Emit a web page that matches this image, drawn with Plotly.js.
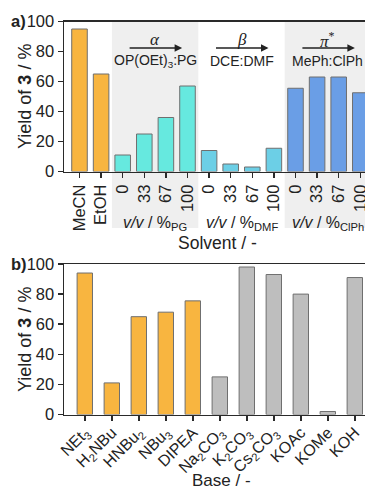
<!DOCTYPE html>
<html>
<head>
<meta charset="utf-8">
<script src="https://cdn.plot.ly/plotly-3.0.1.min.js"></script>
<style>
html,body{margin:0;padding:0;overflow:hidden;background:#fff;width:365px;height:489px;}
#chart{width:400px;height:489px;}
</style>
</head>
<body>
<div id="chart"></div>
<script>
// Panel a: solvent screen
const solventLabels = ["MeCN","EtOH","0","33","67","100","0","33","67","100","0","33","67","100"];
const solventYield = [95, 65, 11, 25, 36, 57, 14, 5, 3, 15.5, 55.5, 63, 63, 52.5];
const solventGroup = ["pure","pure","PG","PG","PG","PG","DMF","DMF","DMF","DMF","ClPh","ClPh","ClPh","ClPh"];

// Panel b: base screen
const baseLabels = ["NEt<sub>3</sub>","H<sub>2</sub>NBu","HNBu<sub>2</sub>","NBu<sub>3</sub>","DIPEA",
  "Na<sub>2</sub>CO<sub>3</sub>","K<sub>2</sub>CO<sub>3</sub>","Cs<sub>2</sub>CO<sub>3</sub>","KOAc","KOMe","KOH"];
const baseYield = [94, 21, 65, 68, 75.5, 25, 98, 93, 80, 2, 91];
const baseGroup = ["amine","amine","amine","amine","amine","inorg","inorg","inorg","inorg","inorg","inorg"];

const groupColor = {pure:"#F8B540", PG:"#66E9DF", DMF:"#6CCFE6", ClPh:"#6A9EE6", amine:"#F8B540", inorg:"#BEBEBE"};

const W = 400, H = 489, L = 64;
const PW = W - L;
const font = "Liberation Sans, Arial, sans-serif";
const txt = "#222";
const py = p => 1 - p / H;      // pixel row -> paper y
const px = p => (p - L) / PW;   // pixel col -> paper x

const sx = solventLabels.map((_, i) => i);
const bx = baseLabels.map((_, i) => i);

const traces = [
  {type:"bar", x:sx, y:solventYield, xaxis:"x", yaxis:"y", width:0.72,
   marker:{color:solventGroup.map(g=>groupColor[g]), line:{color:"#6f6f6f", width:1}},
   hoverinfo:"skip", showlegend:false},
  {type:"bar", x:bx, y:baseYield, xaxis:"x2", yaxis:"y2", width:0.57,
   marker:{color:baseGroup.map(g=>groupColor[g]), line:{color:"#6f6f6f", width:1}},
   hoverinfo:"skip", showlegend:false}
];

const axCommon = {showline:true, linecolor:"#2a2a2a", linewidth:1.5, ticks:"outside", ticklen:5,
  tickwidth:1.5, tickcolor:"#2a2a2a", showgrid:false, zeroline:false,
  tickfont:{family:font, size:16.5, color:txt}};

const sStep = 21.6, sFirst = 79.5;
const bStep = 27, bFirst = 84.8;
const sLo = -(sFirst - L)/sStep, bLo = -(bFirst - L)/bStep;

const shapes = [
  {type:"rect", xref:"x", yref:"paper", x0:1.5, x1:5.5, y0:py(228), y1:py(21.5), fillcolor:"#EFEFEF", line:{width:0}, layer:"below"},
  {type:"rect", xref:"x", yref:"paper", x0:9.5, x1:14.5, y0:py(228), y1:py(21.5), fillcolor:"#EFEFEF", line:{width:0}, layer:"below"}
];

const groups = [
  {c:3.5, greek:"<i>α</i>", mix:"OP(OEt)<sub>3</sub>:PG", vv:"<i>v/v</i> / %<sub>PG</sub>"},
  {c:7.5, greek:"<i>β</i>", mix:"DCE:DMF", vv:"<i>v/v</i> / %<sub>DMF</sub>"},
  {c:11.5, greek:"<i>π</i><sup>*</sup>", mix:"MePh:ClPh", vv:"<i>v/v</i> / %<sub>ClPh</sub>"}
];

const ann = [];
groups.forEach(g => {
  ann.push({xref:"x", yref:"paper", axref:"x", ayref:"paper", x:g.c+1.25, y:py(48), ax:g.c-1.25, ay:py(48),
    text:"", showarrow:true, arrowhead:2, arrowsize:1, arrowwidth:1.5, arrowcolor:"#222", standoff:0, startstandoff:0});
  ann.push({xref:"x", yref:"paper", x:g.c, y:py(39.5), text:g.greek, showarrow:false,
    font:{family:"Liberation Serif, Times New Roman, serif", size:17, color:txt}, xanchor:"center", yanchor:"middle"});
  ann.push({xref:"x", yref:"paper", x:g.c, y:py(61), text:g.mix, showarrow:false,
    font:{family:font, size:14, color:txt}, xanchor:"center", yanchor:"middle"});
  ann.push({xref:"x", yref:"paper", x:g.c, y:py(223), text:g.vv, showarrow:false,
    font:{family:font, size:16, color:txt}, xanchor:"center", yanchor:"middle"});
});
ann.push({xref:"paper", yref:"paper", x:px(217), y:py(243), text:"Solvent / -", showarrow:false,
  font:{family:font, size:17.5, color:txt}, xanchor:"center", yanchor:"middle"});
ann.push({xref:"paper", yref:"paper", x:px(221), y:py(480), text:"Base / -", showarrow:false,
  font:{family:font, size:17, color:txt}, xanchor:"center", yanchor:"middle"});
ann.push({xref:"paper", yref:"paper", x:px(25), y:py(97), text:"Yield of <b>3</b> / %", textangle:-90, showarrow:false,
  font:{family:font, size:18, color:txt}, xanchor:"center", yanchor:"middle"});
ann.push({xref:"paper", yref:"paper", x:px(25), y:py(340), text:"Yield of <b>3</b> / %", textangle:-90, showarrow:false,
  font:{family:font, size:18, color:txt}, xanchor:"center", yanchor:"middle"});
ann.push({xref:"paper", yref:"paper", x:px(9), y:py(21), text:"<b>a)</b>", showarrow:false,
  font:{family:font, size:16.5, color:txt}, xanchor:"left", yanchor:"middle"});
ann.push({xref:"paper", yref:"paper", x:px(9), y:py(264), text:"<b>b)</b>", showarrow:false,
  font:{family:font, size:16.5, color:txt}, xanchor:"left", yanchor:"middle"});

const layout = {
  width:W, height:H, margin:{l:L, r:0, t:0, b:0},
  paper_bgcolor:"#fff", plot_bgcolor:"rgba(0,0,0,0)",
  xaxis:Object.assign({}, axCommon, {domain:[0,1], anchor:"y", range:[sLo, sLo + PW/sStep],
    tickmode:"array", tickvals:sx, ticktext:solventLabels, tickangle:-90, mirror:true}),
  yaxis:Object.assign({}, axCommon, {domain:[py(171.5), py(21.5)], anchor:"x", range:[0,100],
    tickmode:"array", tickvals:[0,20,40,60,80,100]}),
  xaxis2:Object.assign({}, axCommon, {domain:[0,1], anchor:"y2", range:[bLo, bLo + PW/bStep],
    tickmode:"array", tickvals:bx, ticktext:baseLabels, tickangle:-45, mirror:true,
    ticklabelstandoff:-4, tickfont:{family:font, size:16, color:txt}}),
  yaxis2:Object.assign({}, axCommon, {domain:[py(414.5), py(264)], anchor:"x2", range:[0,100],
    tickmode:"array", tickvals:[0,20,40,60,80,100]}),
  shapes:shapes, annotations:ann, showlegend:false
};

Plotly.newPlot("chart", traces, layout, {staticPlot:true, displayModeBar:false});
</script>
</body>
</html>
